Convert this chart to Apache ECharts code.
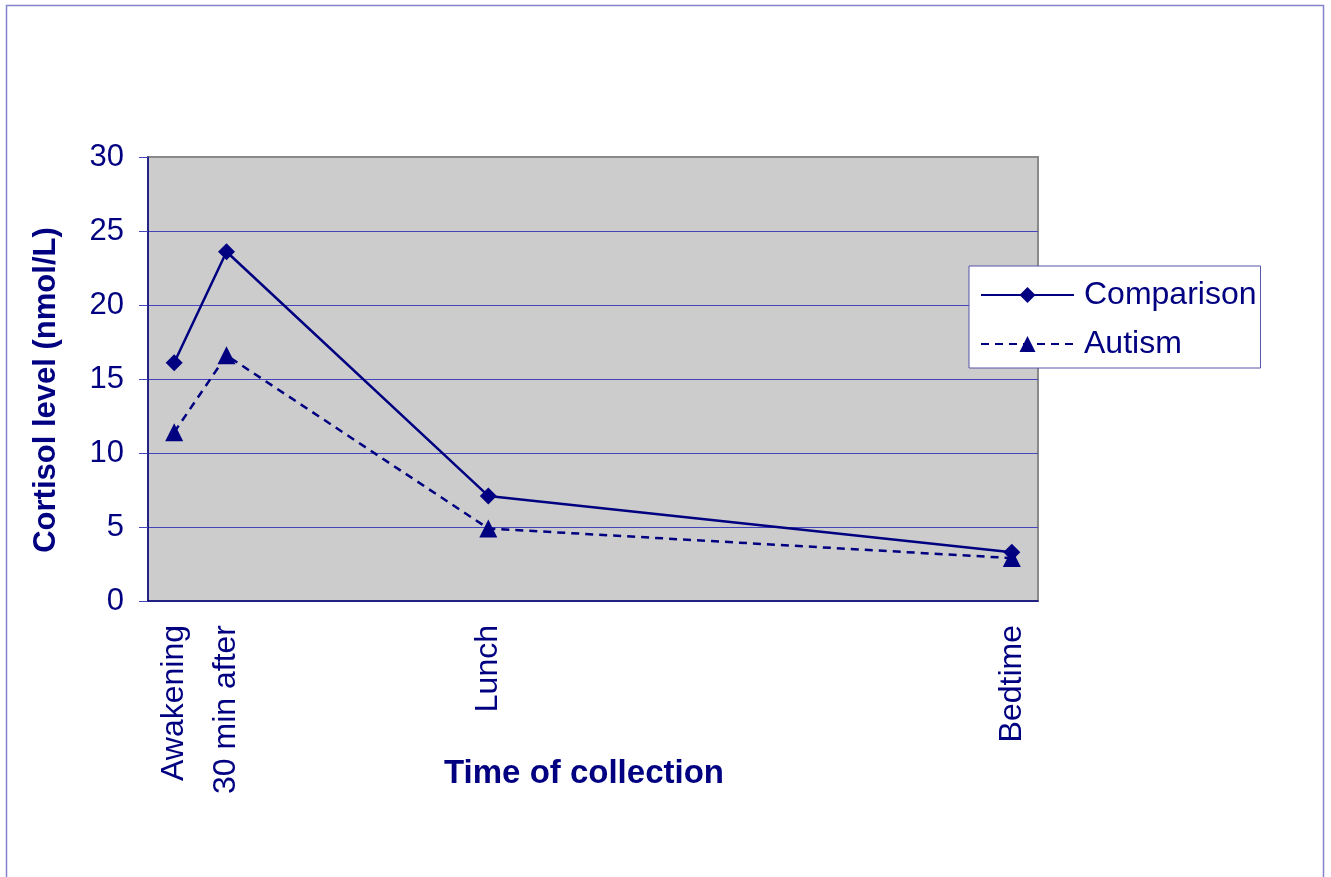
<!DOCTYPE html>
<html>
<head>
<meta charset="utf-8">
<script src="https://cdn.jsdelivr.net/npm/echarts@6/dist/echarts.min.js"></script>
<style>
  html, body { margin: 0; padding: 0; background: #fff; }
  #chart { width: 1331px; height: 877px; }
</style>
</head>
<body>
<div id="chart"></div>
<script>
// Collection points and their time offsets (hours after awakening)
var categories = ['Awakening', '30 min after', 'Lunch', 'Bedtime'];
var hours = [0, 0.5, 3, 8];
var comparison = [16.1, 23.6, 7.1, 3.3];
var autism = [11.4, 16.6, 4.9, 2.9];
var yTicks = [0, 5, 10, 15, 20, 25, 30];

var NAVY = '#000080';
var GRID_BLUE = '#4444bb';
var FONT = '"Liberation Sans", Arial, sans-serif';

function pairs(vals) {
  return vals.map(function (v, i) { return [hours[i], v]; });
}

var chart = echarts.init(document.getElementById('chart'));
chart.setOption({
  backgroundColor: '#ffffff',
  animation: false,
  textStyle: { fontFamily: FONT },
  graphic: [{
    type: 'rect',
    shape: { x: 6.5, y: 5.5, width: 1317, height: 900 },
    style: { fill: 'none', stroke: '#8484cc', lineWidth: 1.5 },
    silent: true
  }],
  grid: {
    left: 148, top: 157, right: 293, bottom: 276,
    show: true, backgroundColor: '#cccccc', borderColor: '#8a8a8a', borderWidth: 2
  },
  legend: {
    orient: 'vertical',
    left: 969, top: 266,
    backgroundColor: '#ffffff',
    borderColor: '#5555aa', borderWidth: 1,
    padding: [13, 4, 8, 11],
    itemGap: 17,
    itemWidth: 93, itemHeight: 20,
    textStyle: { color: NAVY, fontSize: 32, fontFamily: FONT, padding: [0, 0, 0, 5] },
    data: ['Comparison', 'Autism']
  },
  xAxis: {
    type: 'value',
    min: -0.25, max: 8.25,
    name: 'Time of collection',
    nameLocation: 'middle',
    nameGap: 156,
    nameMoveOverlap: false,
    nameTextStyle: { color: NAVY, fontSize: 33, fontWeight: 'bold', fontFamily: FONT, padding: [0, 18, 0, 0] },
    axisLine: { show: true, onZero: false, lineStyle: { color: NAVY, width: 1.5 } },
    axisTick: { show: false },
    splitLine: { show: false },
    axisLabel: {
      customValues: hours,
      rotate: 90,
      margin: 24,
      color: NAVY, fontSize: 32, fontFamily: FONT,
      formatter: function (v) {
        var i = hours.indexOf(v);
        return i >= 0 ? categories[i] : '';
      }
    }
  },
  yAxis: {
    type: 'value',
    min: 0, max: 30, interval: 5,
    name: 'Cortisol level (nmol/L)',
    nameLocation: 'middle',
    nameGap: 86,
    nameMoveOverlap: false,
    nameTextStyle: { color: NAVY, fontSize: 31, fontWeight: 'bold', fontFamily: FONT, padding: [0, 22, 0, 0] },
    axisLine: { show: true, onZero: false, lineStyle: { color: NAVY, width: 1.5 } },
    axisTick: { show: true, inside: false, length: 9, lineStyle: { color: GRID_BLUE, width: 1 } },
    splitLine: { show: true, showMinLine: false, showMaxLine: false, lineStyle: { color: GRID_BLUE, width: 1 } },
    axisLabel: {
      margin: 24,
      color: NAVY, fontSize: 31, fontFamily: FONT,
      customValues: yTicks
    }
  },
  series: [{
    name: 'Comparison',
    type: 'line',
    data: pairs(comparison),
    symbol: 'diamond',
    symbolSize: 17,
    itemStyle: { color: NAVY },
    lineStyle: { color: NAVY, width: 2.5 },
    z: 3
  }, {
    name: 'Autism',
    type: 'line',
    data: pairs(autism),
    symbol: 'triangle',
    symbolSize: 18,
    itemStyle: { color: NAVY },
    lineStyle: { color: NAVY, width: 2.5, type: [8, 6] },
    z: 2
  }]
});
</script>
</body>
</html>
